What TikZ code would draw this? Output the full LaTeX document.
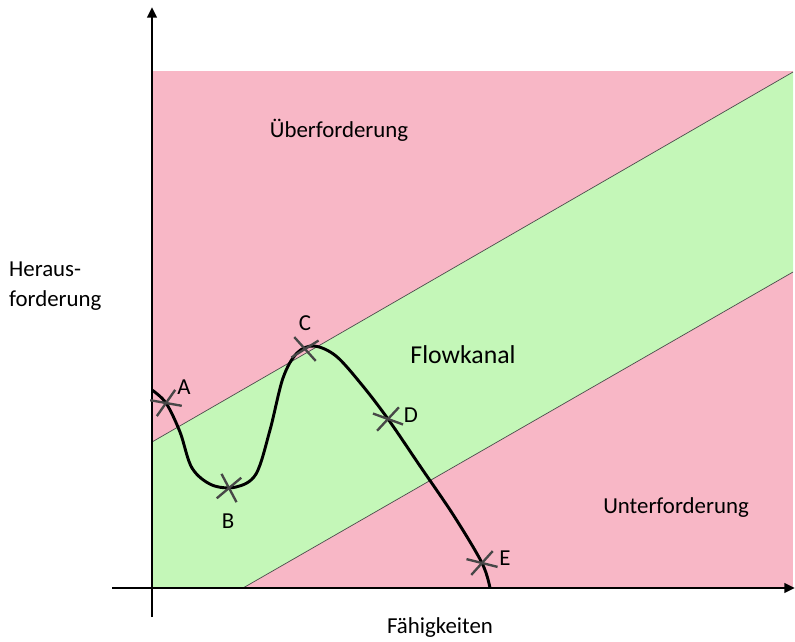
\documentclass[tikz,border=0pt]{standalone}
\usepackage{fontspec}
\setmainfont{Carlito}
\usetikzlibrary{arrows.meta}
\definecolor{zuviel}{RGB}{248,183,198}
\definecolor{flow}{RGB}{196,247,184}

\begin{document}
\begin{tikzpicture}[x=0.03cm,y=-0.03cm,
  txt/.style={font=\fontsize{19.5}{25.5}\selectfont},
  kreuz/.style={draw=black!72,line width=2pt}]
  \useasboundingbox (0,0) rectangle (795,641);
  % Flaechen
  \fill[zuviel] (152,71) rectangle (793,588);
  \fill[flow] (152,442) -- (793,72) -- (793,272) -- (243,588) -- (152,588) -- cycle;
  \draw[black!70,line width=0.6pt] (152,442) -- (793,72);
  \draw[black!70,line width=0.6pt] (243,588) -- (793,272);
  % Achsen
  \draw[line width=2.4pt,-{Triangle[length=9pt,width=8pt]}] (152,617) -- (152,7);
  \draw[line width=2.4pt,-{Triangle[length=9pt,width=8pt]}] (112,588) -- (795,588);
  % Verlauf
  \draw[line width=2.5pt] plot[smooth,tension=0.55] coordinates {(152,390) (166,403) (180,432) (192,468) (212,485) (236,487) (256,474) (270,430) (283,378) (297,353) (314,346) (336,356) (362,385) (388,419) (420,466) (454,516) (482,563) (490,588)};
  \coordinate (A) at (166,403);
  \coordinate (B) at (229,488);
  \coordinate (C) at (305,349);
  \coordinate (D) at (388,419);
  \coordinate (E) at (482,563);
  \foreach \p/\a/\b in {A/-10/55,B/-62/40,C/-48/32,D/-20/47,E/-14/48} {
    \draw[kreuz] (\p) ++(\a:0.48cm) -- ++(\a+180:0.96cm);
    \draw[kreuz] (\p) ++(\b:0.48cm) -- ++(\b+180:0.96cm);
  }
  \node[txt] (lA) at (184,387) {A};
  \node[txt] (lB) at (228,521) {B};
  \node[txt] (lC) at (305,323) {C};
  \node[txt] (lD) at (411,415) {D};
  \node[txt] (lE) at (505,558) {E};
  % Beschriftungen
  \node[txt] (ueber) at (339,130) {Überforderung};
  \node[font=\fontsize{22}{26}\selectfont] (flowkanal) at (463,355) {Flowkanal};
  \node[txt] (unter) at (676,508) {Unterforderung};
  \node[txt,anchor=west,align=left] (heraus) at (5,286) {Heraus-\\forderung};
  \node[txt] (faehig) at (440,628) {Fähigkeiten};
\end{tikzpicture}
\end{document}
